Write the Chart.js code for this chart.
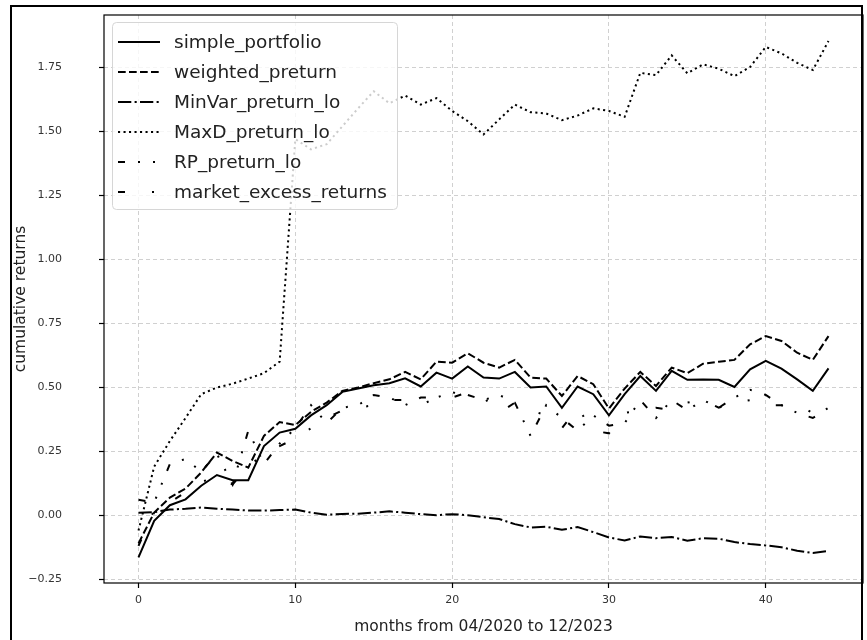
<!DOCTYPE html>
<html>
<head>
<meta charset="utf-8">
<title>cumulative returns</title>
<script src="https://cdn.jsdelivr.net/npm/chart.js@4.4.0/dist/chart.umd.min.js"></script>
<style>
    html, body { margin: 0; padding: 0; background: #fff; }
    #chart { display: block; }
</style>
</head>
<body>
<canvas id="chart" width="867" height="640"></canvas>
<script>
// months since 04/2020
const months = [0, 1, 2, 3, 4, 5, 6, 7, 8, 9, 10, 11, 12, 13, 14, 15, 16, 17, 18, 19, 20, 21, 22,
    23, 24, 25, 26, 27, 28, 29, 30, 31, 32, 33, 34, 35, 36, 37, 38, 39, 40, 41, 42, 43, 44];

const simplePortfolio = [-0.165, -0.022, 0.039, 0.062, 0.115, 0.157, 0.137, 0.137, 0.27, 0.323, 0.338,
    0.39, 0.43, 0.482, 0.495, 0.508, 0.516, 0.535, 0.503, 0.557, 0.534, 0.581, 0.538, 0.534, 0.56,
    0.499, 0.503, 0.42, 0.503, 0.473, 0.39, 0.473, 0.544, 0.486, 0.564, 0.529, 0.53, 0.529, 0.501,
    0.57, 0.603, 0.573, 0.531, 0.486, 0.574];

const weightedPreturn = [-0.11, 0.01, 0.069, 0.104, 0.167, 0.245, 0.212, 0.186, 0.31, 0.364, 0.352,
    0.404, 0.44, 0.486, 0.499, 0.516, 0.531, 0.56, 0.531, 0.6, 0.596, 0.633, 0.596, 0.577, 0.607,
    0.538, 0.534, 0.466, 0.544, 0.512, 0.417, 0.495, 0.56, 0.505, 0.577, 0.555, 0.592, 0.6, 0.607,
    0.668, 0.7, 0.681, 0.635, 0.607, 0.7];

const minVarPreturn = [0.01, 0.012, 0.022, 0.025, 0.03, 0.025, 0.022, 0.018, 0.018, 0.02, 0.022,
    0.01, 0.002, 0.005, 0.006, 0.01, 0.015, 0.01, 0.004, 0.0, 0.004, 0.0, -0.008, -0.015, -0.035,
    -0.048, -0.045, -0.057, -0.046, -0.066, -0.087, -0.099, -0.083, -0.09, -0.085, -0.1, -0.09,
    -0.092, -0.105, -0.113, -0.118, -0.125, -0.139, -0.148, -0.14];

const maxDPreturn = [-0.06, 0.19, 0.29, 0.38, 0.473, 0.499, 0.514, 0.534, 0.555, 0.6, 1.47,
    1.43, 1.45, 1.52, 1.59, 1.657, 1.61, 1.64, 1.605, 1.63, 1.58, 1.54, 1.488, 1.547, 1.605,
    1.575, 1.57, 1.544, 1.562, 1.59, 1.58, 1.557, 1.729, 1.72, 1.797, 1.727, 1.762, 1.745, 1.716,
    1.752, 1.83, 1.805, 1.768, 1.74, 1.853];

const rpPreturn = [0.06, 0.05, 0.2, 0.22, 0.17, 0.24, 0.12, 0.33, 0.2, 0.28, 0.34,
    0.43, 0.36, 0.42, 0.43, 0.47, 0.46, 0.43, 0.46, 0.46, 0.48, 0.47, 0.45, 0.47, 0.44,
    0.31, 0.43, 0.38, 0.33, 0.39, 0.35, 0.36, 0.45, 0.38, 0.45, 0.41, 0.45, 0.42, 0.46,
    0.49, 0.47, 0.43, 0.4, 0.38, 0.42];

const marketExcess = [-0.12, 0.02, 0.05, 0.09, 0.13, 0.15, 0.12, 0.19, 0.24, 0.27, 0.3,
    0.34, 0.38, 0.41, 0.42, 0.43, 0.45, 0.45, 0.43, 0.46, 0.46, 0.48, 0.46, 0.4, 0.44,
    0.41, 0.39, 0.34, 0.42, 0.33, 0.32, 0.4, 0.41, 0.42, 0.41, 0.44, 0.45, 0.42, 0.44,
    0.45, 0.43, 0.43, 0.43, 0.4, 0.42];

const seriesNames = ['simple_portfolio', 'weighted_preturn', 'MinVar_preturn_lo',
    'MaxD_preturn_lo', 'RP_preturn_lo', 'market_excess_returns'];

const xTickValues = [0, 10, 20, 30, 40];
const yTickValues = [-0.25, 0, 0.25, 0.5, 0.75, 1, 1.25, 1.5, 1.75];

const FONT = "'DejaVu Sans', sans-serif";

// matplotlib-ish dash patterns, scaled for a 2px line
const dashStyles = [
    [],
    [7.7, 3.3],
    [13.3, 3.3, 2.1, 3.3],
    [2.1, 3.4],
    [7, 13, 2, 13, 2, 13],
    [7, 27, 2, 27]
];

function toPoints(values) {
    return months.map((m, i) => ({ x: m, y: values[i] }));
}

const allSeries = [simplePortfolio, weightedPreturn, minVarPreturn, maxDPreturn, rpPreturn, marketExcess];

const datasets = allSeries.map((values, i) => ({
    label: seriesNames[i],
    data: toPoints(values),
    borderColor: '#000',
    backgroundColor: '#000',
    borderWidth: 2,
    borderDash: dashStyles[i],
    borderCapStyle: 'butt',
    pointRadius: 0,
    tension: 0,
    fill: false
}));

// legend inside the plot, plus the axes box and the outer frame
const framePlugin = {
    id: 'framePlugin',
    afterDraw(chart) {
        const ctx = chart.ctx;
        const area = chart.chartArea;
        ctx.save();

        ctx.strokeStyle = '#000';
        ctx.lineWidth = 1.2;
        ctx.setLineDash([]);
        ctx.strokeRect(area.left, area.top, area.right - area.left, area.bottom - area.top);

        // legend box
        const lx = area.left + 8;
        const ly = area.top + 7;
        const lw = 285;
        const lh = 187;
        ctx.beginPath();
        ctx.roundRect(lx + 0.5, ly + 0.5, lw, lh, 4);
        ctx.fillStyle = 'rgba(255,255,255,0.8)';
        ctx.fill();
        ctx.strokeStyle = '#d6d6d6';
        ctx.lineWidth = 1;
        ctx.stroke();

        chart.data.datasets.forEach((ds, i) => {
            const rowY = ly + 20 + i * 30;
            ctx.beginPath();
            ctx.setLineDash(ds.borderDash);
            ctx.lineCap = 'butt';
            ctx.lineWidth = ds.borderWidth;
            ctx.strokeStyle = ds.borderColor;
            ctx.moveTo(lx + 6, rowY);
            ctx.lineTo(lx + 48, rowY);
            ctx.stroke();
            ctx.setLineDash([]);
            ctx.fillStyle = '#222';
            ctx.font = '18.5px ' + FONT;
            ctx.textBaseline = 'middle';
            ctx.textAlign = 'left';
            ctx.fillText(ds.label, lx + 62, rowY + 1);
        });

        // outer frame of the picture
        ctx.strokeStyle = '#000';
        ctx.lineWidth = 2;
        ctx.beginPath();
        ctx.moveTo(11, 640);
        ctx.lineTo(11, 6);
        ctx.lineTo(862, 6);
        ctx.lineTo(862, 640);
        ctx.stroke();
        ctx.restore();
    }
};

new Chart(document.getElementById('chart'), {
    type: 'line',
    data: { datasets: datasets },
    options: {
        responsive: false,
        animation: false,
        devicePixelRatio: 1,
        layout: { padding: { top: 15, right: 4, left: 0, bottom: 0 } },
        plugins: {
            legend: { display: false },
            tooltip: { enabled: false }
        },
        scales: {
            x: {
                type: 'linear',
                min: -2.2,
                max: 46.2,
                afterBuildTicks: scale => { scale.ticks = xTickValues.map(v => ({ value: v })); },
                afterFit: scale => {
                    scale.height = 57;
                    scale.paddingLeft = 0;
                    scale.paddingRight = 0;
                },
                grid: { color: '#d0d0d0', lineWidth: 1, tickColor: '#000', tickLength: 5, tickWidth: 1.2, tickBorderDash: [] },
                border: { display: false, dash: [4, 3] },
                ticks: {
                    color: '#333',
                    font: { family: FONT, size: 11 },
                    padding: 6,
                    maxRotation: 0,
                    autoSkip: false,
                    callback: v => String(v)
                },
                title: {
                    display: true,
                    text: 'months from 04/2020 to 12/2023',
                    color: '#222',
                    font: { family: FONT, size: 15.5 },
                    padding: { top: 0, bottom: 4 }
                }
            },
            y: {
                type: 'linear',
                min: -0.265,
                max: 1.955,
                afterBuildTicks: scale => { scale.ticks = yTickValues.map(v => ({ value: v })); },
                afterFit: scale => {
                    scale.width = 104;
                    scale.paddingTop = 0;
                    scale.paddingBottom = 0;
                },
                grid: { color: '#d0d0d0', lineWidth: 1, tickColor: '#000', tickLength: 5, tickWidth: 1.2, tickBorderDash: [] },
                border: { display: false, dash: [4, 3] },
                ticks: {
                    color: '#333',
                    font: { family: FONT, size: 11 },
                    padding: 37,
                    callback: v => v.toFixed(2).replace('-', '\u2212')
                },
                title: {
                    display: true,
                    text: 'cumulative returns',
                    color: '#222',
                    font: { family: FONT, size: 15.5 },
                    padding: { top: 12, bottom: 0 }
                }
            }
        }
    },
    plugins: [framePlugin]
});
</script>
</body>
</html>
